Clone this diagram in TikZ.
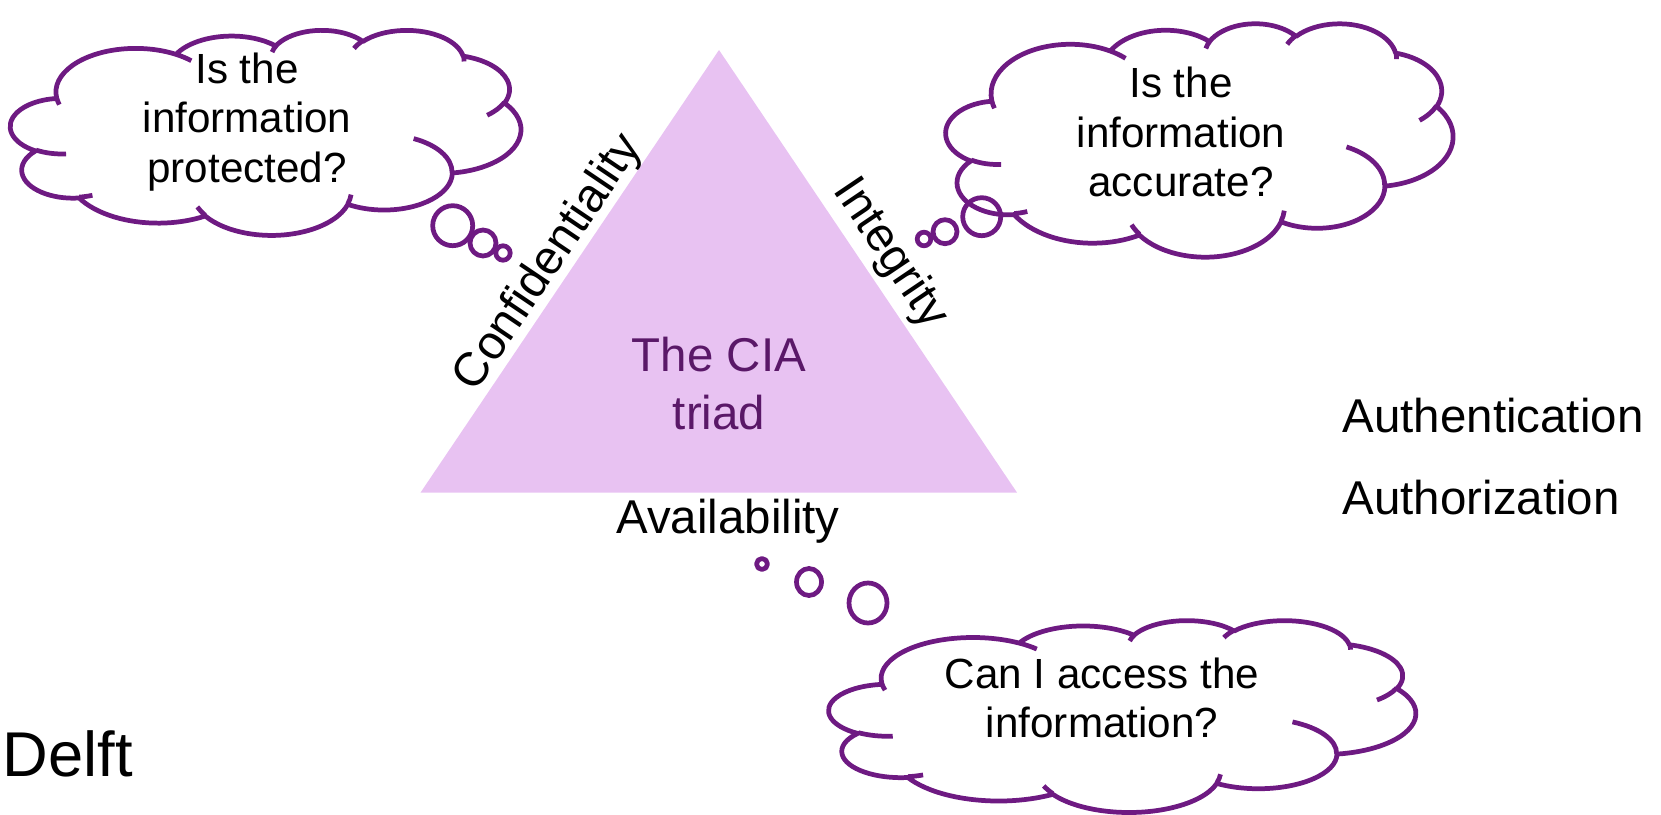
\documentclass[tikz,border=0pt]{standalone}
\usepackage{fontspec}
\setmainfont{Liberation Sans}

% cloud outline drawn in a 432 x 432 box, y pointing down
% #1,#2 = top left corner, #3 = width, #4 = height (cm)
\newcommand\cloudoutline[4]{%
  \pgfmathsetmacro\cloudxu{#3/432}%
  \pgfmathsetmacro\cloudyu{-#4/432}%
  \begin{scope}[shift={(#1,#2)}, x=\cloudxu cm, y=\cloudyu cm]
    \draw[cloudline] (39.00,143.70)
      arc[puff={67.53}{91.90}{-190.4875}{123.7805}]
      arc[puff={53.33}{72.67}{-144.1024}{89.9452}]
      arc[puff={43.65}{59.45}{-145.8079}{99.7230}]
      arc[puff={48.57}{65.95}{-130.9861}{117.2417}]
      arc[puff={53.33}{72.73}{-78.7089}{109.0269}]
      arc[puff={67.75}{92.20}{-46.2673}{130.2690}]
      arc[puff={57.85}{78.67}{0.6250}{114.0333}]
      arc[puff={67.52}{92.15}{22.4516}{115.1726}]
      arc[puff={77.20}{105.43}{66.2426}{75.7110}]
      arc[puff={43.60}{59.18}{-274.9421}{146.7356}]
      arc[puff={43.45}{59.45}{-246.8285}{152.5189}] -- cycle
      % inner ends of the puffs
      (46.93,261.77) arc[puff={43.45}{59.45}{86.7420}{26.4295}]
      (69.28,348.99) arc[puff={43.60}{59.18}{73.6105}{11.4475}]
      (164.78,390.90) arc[puff={67.52}{92.15}{137.6242}{14.0811}]
      (288.27,347.51) arc[puff={67.52}{92.15}{6.4533}{15.9984}]
      (341.29,229.54) arc[puff={57.85}{78.67}{-70.2924}{70.9174}]
      (417.98,153.54) arc[puff={53.33}{72.73}{30.3180}{27.7515}]
      (383.24,54.26) arc[puff={48.57}{65.95}{-13.7443}{14.8589}]
      (290.78,39.52) arc[puff={48.57}{65.95}{-149.1815}{18.1954}]
      (221.41,47.20) arc[puff={43.65}{59.45}{-163.4943}{17.6864}]
      (140.00,51.92) arc[puff={67.53}{91.90}{-66.7070}{12.3194}]
      (41.27,157.89) arc[puff={67.53}{91.90}{157.6544}{11.8582}];
  \end{scope}}

\begin{document}
\begin{tikzpicture}[every node/.style={font=\fontsize{13.5}{16.5}\selectfont, inner sep=0pt},
    declare function={vis(\w,\h,\a)=atan2(\w*sin(\a),\h*cos(\a));}]
    \definecolor{ciapurple}{RGB}{110,26,130}
    \definecolor{cialilac}{RGB}{232,194,242}
    \definecolor{ciatext}{RGB}{90,24,104}

    \tikzset{
        cloudline/.style={draw=ciapurple, line width=1.35pt, line join=round},
        cloudtext/.style={align=center, font=\fontsize{12}{14}\selectfont},
        puff/.style n args={4}{
            /utils/exec={\pgfmathsetmacro\puffst{vis(#1,#2,#3)}%
                \pgfmathsetmacro\puffsw{mod(vis(#1,#2,#3+#4)-\puffst+720,360)}},
            start angle=\puffst, delta angle=\puffsw, x radius=#1, y radius=#2}
    }

    \useasboundingbox (0,0) rectangle (16.61,8.14);

    % The triangle
    \fill[cialilac] (4.205,3.214) -- (7.19,7.64) -- (10.17,3.214) -- cycle;
    \node[text=ciatext, align=center] (triad) at (7.19,4.30) {The CIA\\triad};

    % Labels along the sides
    \node[rotate=56] (conf) at (5.49,5.51) {Confidentiality};
    \node[rotate=-56] (integ) at (8.90,5.60) {Integrity};
    \node (avail) at (7.28,2.93) {Availability};

    % Thought clouds
    \cloudoutline{0.106}{7.843}{5.104}{2.053}
    \cloudoutline{9.46}{7.91}{5.07}{2.34}
    \cloudoutline{8.29}{1.94}{5.87}{1.92}

    % Bubbles
    \draw[cloudline] (4.527,5.883) circle (0.20);
    \draw[cloudline] (4.83,5.71) circle (0.13);
    \draw[cloudline] (5.03,5.61) circle (0.072);
    \draw[cloudline] (9.817,5.973) circle (0.19);
    \draw[cloudline] (9.45,5.823) circle (0.12);
    \draw[cloudline] (9.24,5.75) circle (0.068);
    \draw[cloudline] (7.62,2.50) circle (0.055);
    \draw[cloudline] (8.09,2.32) ellipse (0.125 and 0.135);
    \draw[cloudline] (8.68,2.11) ellipse (0.19 and 0.20);

    % Questions
    \node[cloudtext] (q1) at (2.47,6.92) {Is the\\information\\protected?};
    \node[cloudtext] (q2) at (11.81,6.82) {Is the\\information\\accurate?};
    \node[cloudtext] (q3) at (11.02,1.16) {Can I access the\\information?};

    % Right hand terms
    \node[anchor=west] (authn) at (13.42,3.98) {Authentication};
    \node[anchor=west] (authz) at (13.42,3.16) {Authorization};

    \node[anchor=west, font=\fontsize{18}{21}\selectfont] (delft) at (0.02,0.60) {Delft};
\end{tikzpicture}
\end{document}
